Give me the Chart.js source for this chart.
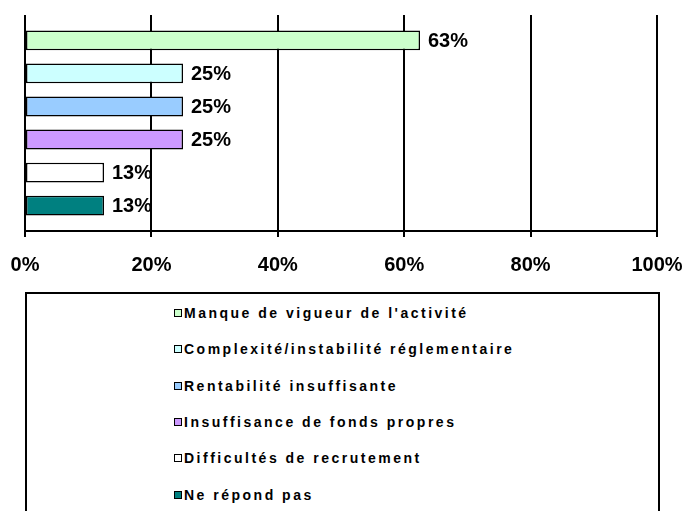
<!DOCTYPE html>
<html>
<head>
<meta charset="utf-8">
<script src="https://cdn.jsdelivr.net/npm/chart.js@4.4.0/dist/chart.umd.min.js"></script>
<style>
  body { margin: 0; background: #fff; }
  #wrap { position: relative; width: 688px; height: 511px; overflow: hidden; }
  #chartBox { position: absolute; left: 0; top: 0; width: 688px; height: 307px; }
  #legend {
    position: absolute; left: 25px; top: 292px; width: 631px; height: 240px;
    border: 2px solid #000; background: #fff;
  }
  #legend ul { list-style: none; margin: 0; padding: 1px 0 0 147px; }
  #legend li {
    height: 36.3px; display: flex; align-items: center;
    font: 700 14px "Liberation Sans", Arial, sans-serif;
    letter-spacing: 2.5px; color: #000; white-space: nowrap;
  }
  #legend li span.box {
    display: inline-block; width: 6px; height: 6px; border: 1.5px solid #000; margin-right: 2px;
  }
</style>
</head>
<body>
<div id="wrap">
  <div id="chartBox"><canvas id="chart"></canvas></div>
  <div id="legend"></div>
</div>
<script>
const reasons = [
  "Manque de vigueur de l'activité",
  "Complexité/instabilité réglementaire",
  "Rentabilité insuffisante",
  "Insuffisance de fonds propres",
  "Difficultés de recrutement",
  "Ne répond pas"
];
const shares = [62.5, 25, 25, 25, 12.5, 12.5];
const colors = ['#CCFFCC', '#CCFFFF', '#99CCFF', '#CC99FF', '#FFFFFF', '#008080'];
const tickValues = [0, 20, 40, 60, 80, 100];

const valueLabels = {
  id: 'valueLabels',
  afterDatasetsDraw(chart) {
    const ctx = chart.ctx;
    ctx.save();
    ctx.font = 'bold 20px "Liberation Sans", Arial, sans-serif';
    ctx.fillStyle = '#000';
    ctx.textAlign = 'left';
    ctx.textBaseline = 'middle';
    chart.data.datasets.forEach((ds, i) => {
      chart.getDatasetMeta(i).data.forEach((bar, j) => {
        ctx.fillText(Math.round(ds.data[j]) + '%', bar.x + 8, bar.y + 1);
      });
    });
    ctx.restore();
  }
};

const ctx = document.getElementById('chart').getContext('2d');
const chart = new Chart(ctx, {
  type: 'bar',
  data: {
    labels: [''],
    datasets: reasons.map((r, i) => ({
      label: r,
      data: [shares[i]],
      backgroundColor: colors[i],
      borderColor: '#000',
      borderWidth: 1.5,
      borderSkipped: false,
      categoryPercentage: 0.918,
      barPercentage: 0.6
    }))
  },
  options: {
    indexAxis: 'y',
    responsive: true,
    maintainAspectRatio: false,
    animation: false,
    layout: { padding: { left: 25, right: 31, top: 15, bottom: 14 } },
    plugins: {
      legend: { display: false },
      tooltip: { enabled: false }
    },
    scales: {
      x: {
        min: 0,
        max: 100,
        afterBuildTicks: (axis) => { axis.ticks = tickValues.map(v => ({ value: v })); },
        // pas de marge auto pour les labels du bord, on gere avec layout.padding
        afterFit: (axis) => { axis.paddingLeft = 0; axis.paddingRight = 0; },
        ticks: {
          callback: (v) => v + '%',
          color: '#000',
          padding: 16,
          maxRotation: 0,
          font: { family: '"Liberation Sans", Arial, sans-serif', size: 20, weight: 'bold' }
        },
        grid: { color: '#000', lineWidth: 2, tickLength: 6, drawTicks: true },
        border: { color: '#000', width: 2 }
      },
      y: {
        display: false,
        grid: { display: false }
      }
    }
  },
  plugins: [valueLabels]
});

// legende faite a la main, en liste verticale dans un cadre
const ul = document.createElement('ul');
chart.data.datasets.forEach(ds => {
  const li = document.createElement('li');
  const box = document.createElement('span');
  box.className = 'box';
  box.style.background = ds.backgroundColor;
  li.appendChild(box);
  li.appendChild(document.createTextNode(ds.label));
  ul.appendChild(li);
});
document.getElementById('legend').appendChild(ul);
</script>
</body>
</html>
